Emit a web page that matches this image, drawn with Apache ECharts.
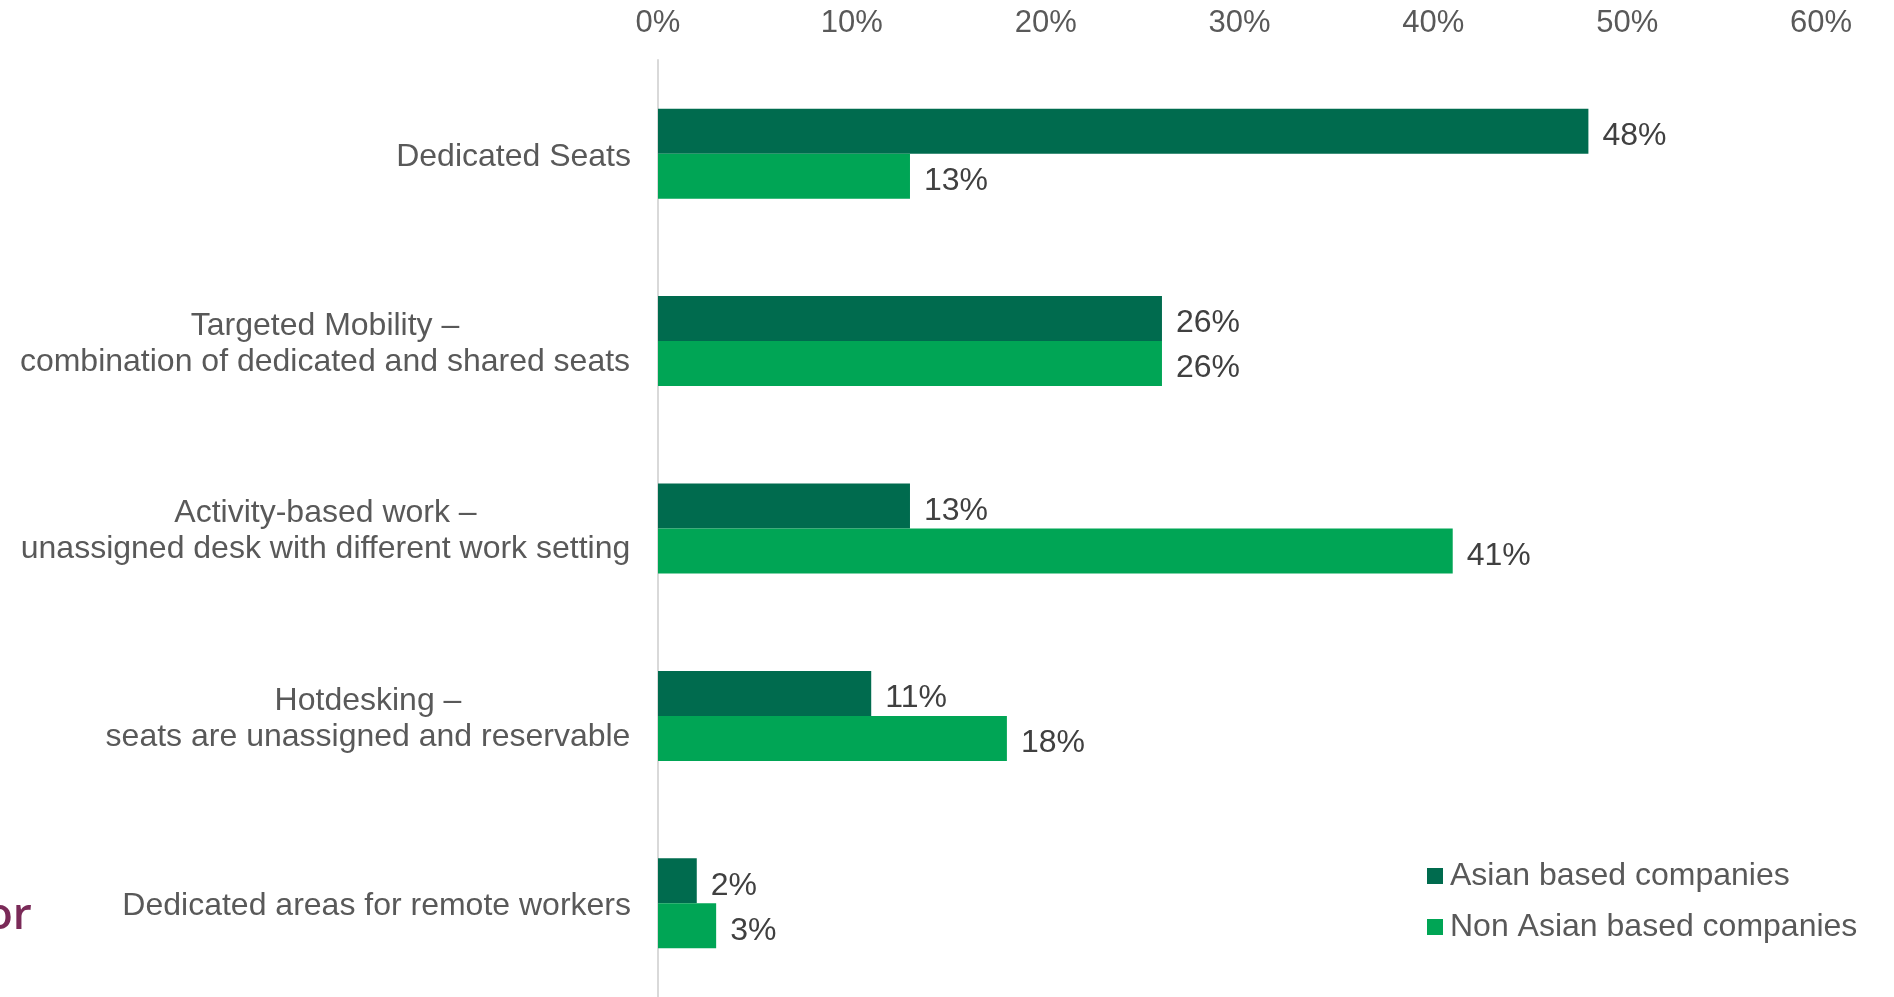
<!DOCTYPE html>
<html>
<head>
<meta charset="utf-8">
<style>
  html, body { margin: 0; padding: 0; background: #ffffff; }
  #chart { width: 1894px; height: 997px; }
</style>
<script src="https://cdn.jsdelivr.net/npm/echarts@6/dist/echarts.min.js"></script>
</head>
<body>
<div id="chart"></div>
<script>
// Workplace seating models, share of companies by region
const categories = [
  'Dedicated Seats',
  'Targeted Mobility –\ncombination of dedicated and shared seats',
  'Activity-based work –\nunassigned desk with different work setting',
  'Hotdesking –\nseats are unassigned and reservable',
  'Dedicated areas for remote workers'
];
const seriesNames = ['Asian based companies', 'Non Asian based companies'];
const asianValues = [48, 26, 13, 11, 2];
const nonAsianValues = [13, 26, 41, 18, 3];
const axisTicks = [0, 10, 20, 30, 40, 50, 60];

const FONT = '"Liberation Sans", Arial, sans-serif';
const FS = 32;
const TICK_FS = 31;
const GREY = '#595959';

// Multi-line category labels: lines are centred on each other while the
// whole block stays right-aligned against the axis.
const measureCtx = document.createElement('canvas').getContext('2d');
measureCtx.font = FS + 'px ' + FONT;
const rich = {};
categories.forEach((c, i) => {
  const w = Math.max(...c.split('\n').map(l => measureCtx.measureText(l).width));
  rich['c' + i] = { width: Math.ceil(w) + 1, align: 'center', fontSize: FS, lineHeight: 36, color: GREY, fontFamily: FONT };
});

const valueLabel = {
  show: true,
  position: 'right',
  distance: 14,
  offset: [0, 5],
  formatter: '{c}%',
  fontSize: FS,
  color: '#404040',
  fontFamily: FONT
};

const chart = echarts.init(document.getElementById('chart'));
chart.setOption({
  animation: false,
  textStyle: { fontFamily: FONT },
  grid: { left: 658, right: 73, top: 60, height: 939, containLabel: false },
  legend: {
    orient: 'vertical',
    left: 1422,
    top: 855,
    itemWidth: 16,
    itemHeight: 16,
    itemGap: 19,
    icon: 'rect',
    textStyle: { fontSize: FS, color: GREY, fontFamily: FONT, padding: [0, 0, 0, 2] },
    data: seriesNames
  },
  xAxis: {
    type: 'value',
    position: 'top',
    min: axisTicks[0],
    max: axisTicks[axisTicks.length - 1],
    interval: 10,
    axisLine: { show: false },
    axisTick: { show: false },
    splitLine: { show: false },
    axisLabel: { fontSize: TICK_FS, color: GREY, margin: 21, formatter: '{value}%', fontFamily: FONT }
  },
  yAxis: {
    type: 'category',
    inverse: true,
    data: categories,
    axisLine: { show: true, lineStyle: { color: '#D9D9D9', width: 2 } },
    axisTick: { show: false },
    axisLabel: {
      margin: 27,
      fontSize: FS,
      color: GREY,
      lineHeight: 36,
      padding: [6, 0, 0, 0],
      fontFamily: FONT,
      formatter: (value, idx) => {
        const lines = value.split('\n');
        if (lines.length === 1) return value;
        return lines.map(l => '{c' + idx + '|' + l + '}').join('\n');
      },
      rich: rich
    }
  },
  series: [
    {
      name: seriesNames[0],
      type: 'bar',
      data: asianValues,
      barGap: '0%',
      barCategoryGap: '52%',
      itemStyle: { color: '#006B4E' },
      label: valueLabel
    },
    {
      name: seriesNames[1],
      type: 'bar',
      data: nonAsianValues,
      barGap: '0%',
      barCategoryGap: '52%',
      itemStyle: { color: '#00A555' },
      label: valueLabel
    }
  ],
  graphic: [
    {
      type: 'text',
      left: -14,
      top: 894,
      style: { text: 'or', fontSize: 44, fontWeight: 600, fill: '#7A2A58', fontFamily: '"Open Sans", sans-serif' }
    }
  ]
});
</script>
</body>
</html>
